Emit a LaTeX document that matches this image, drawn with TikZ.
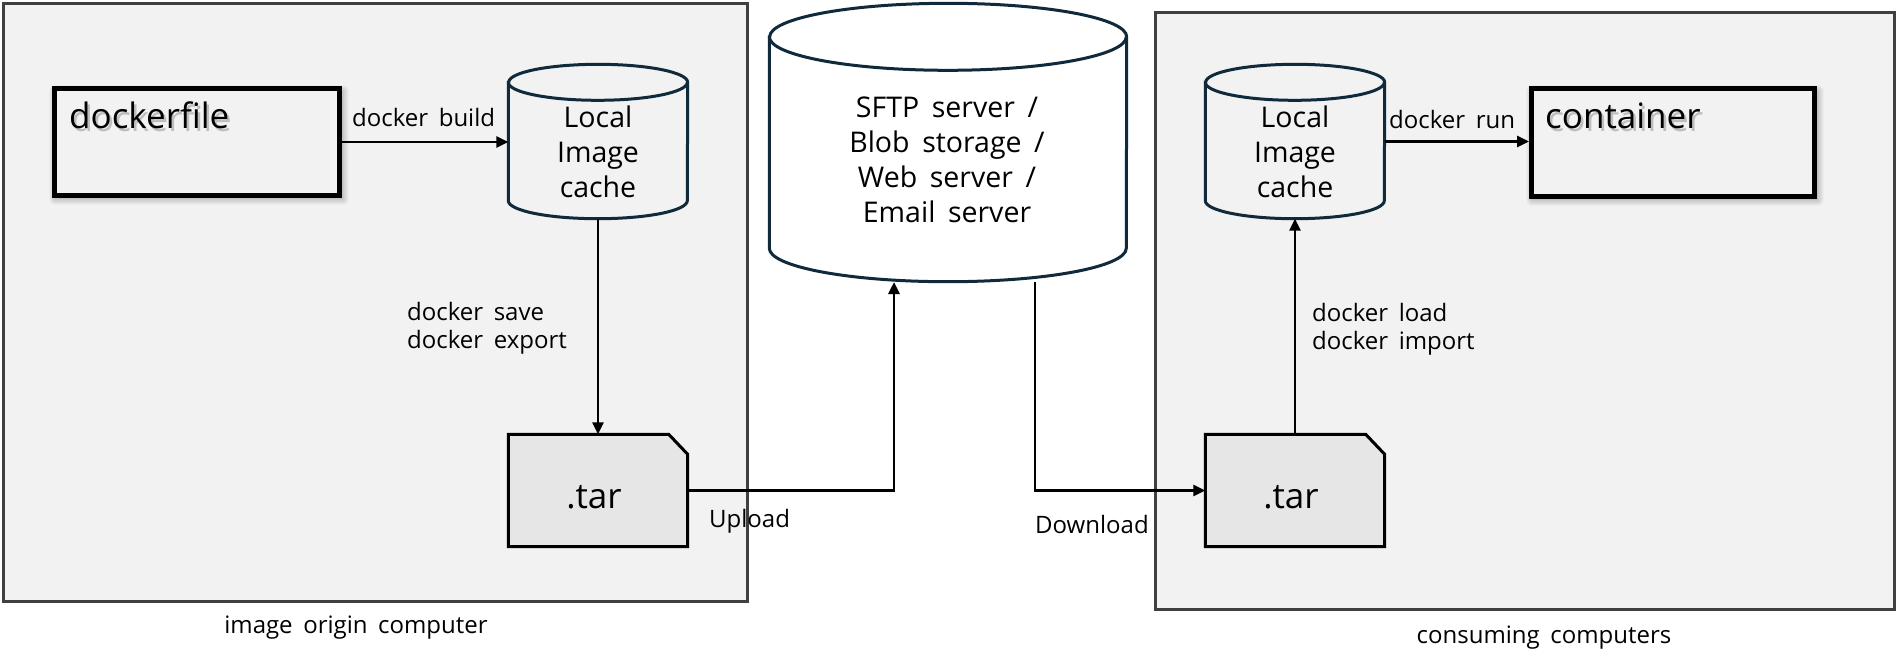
\documentclass[tikz,border=0pt]{standalone}
\usepackage{fontspec}
\setmainfont{Open Sans}[WordSpace=1.7]
\usetikzlibrary{arrows.meta,calc}
\definecolor{boxbg}{HTML}{F2F2F2}
\definecolor{boxedge}{HTML}{404040}
\definecolor{cylnavy}{HTML}{102A3C}
\definecolor{tarfill}{HTML}{E6E6E6}
\newcommand{\cylshape}[4]{% node, x radius, y radius, fill
  \filldraw[cylline, fill=#4] ($(#1.north west)+(0,#3)$) -- ($(#1.south west)+(0,-#3)$)
    arc[start angle=180, end angle=0, x radius=#2, y radius=#3]
    -- ($(#1.north east)+(0,#3)$)
    arc[start angle=0, end angle=-180, x radius=#2, y radius=#3] -- cycle;
  \draw[cylline] ($(#1.north west)+(0,#3)$) arc[start angle=180, end angle=0, x radius=#2, y radius=#3];
}
\newcommand{\softshadow}[1]{%
  \foreach \g in {0,1.5,3,4.5,6}
    \fill[black, opacity=0.045, rounded corners=\g pt] ($(#1.south west)+(1-\g,3+\g)$) rectangle ($(#1.north east)+(3+\g,3-\g)$);
}
\begin{document}
\begin{tikzpicture}[x=1pt,y=-1pt,
  group/.style={draw=boxedge, fill=boxbg, line width=3pt, inner sep=0pt},
  frame/.style={draw=none, inner sep=0pt},
  cylline/.style={draw=cylnavy, line width=3pt},
  thickbox/.style={draw=black, fill=boxbg, line width=5pt, inner sep=0pt},
  tarline/.style={draw=black, fill=tarfill, line width=3pt},
  conn/.style={line width=2.8pt, -{Triangle[length=12pt,width=11pt]}},
  lbl/.style={font=\fontsize{24}{27.5}\selectfont, inner sep=0pt},
  cyltext/.style={font=\fontsize{28.5}{35}\selectfont, align=center, inner sep=0pt},
  bigtext/.style={font=\fontsize{35}{40}\selectfont, inner sep=0pt}
]
\useasboundingbox (0,0) rectangle (1896,665);
\fill[white] (0,0) rectangle (1896,665);

% computer groups
\node[group, anchor=north west, minimum width=744, minimum height=598.5] (origin) at (1.5,1.5) {};
\node[group, anchor=north west, minimum width=739, minimum height=597] (consumer) at (1153.5,10.5) {};
\node[lbl, anchor=base] (originlbl) at (356,633) {image origin computer};
\node[lbl, anchor=base] (consumerlbl) at (1544,643) {consuming computers};

% dockerfile box
\node[frame, minimum width=285, minimum height=107] (dfshape) at (197,142) {};
\softshadow{dfshape}
\node[thickbox, minimum width=285, minimum height=107] (df) at (197,142) {};
\node[bigtext, anchor=base west, text=black!45, opacity=0.5] (dfshadow) at (71.5,131) {dockerfile};
\node[bigtext, anchor=base west] (dftext) at (69,128) {dockerfile};

% container box
\node[frame, minimum width=283, minimum height=108] (ctshape) at (1673,142.5) {};
\softshadow{ctshape}
\node[thickbox, minimum width=283, minimum height=108] (ct) at (1673,142.5) {};
\node[bigtext, anchor=base west, text=black!45, opacity=0.5] (ctshadow) at (1547.5,131) {container};
\node[bigtext, anchor=base west] (cttext) at (1545,128) {container};

% local image caches
\node[frame, minimum width=179, minimum height=154] (c1) at (598,141.5) {};
\cylshape{c1}{89.5}{18}{boxbg}
\node[cyltext, anchor=base] (c1text) at (598,197) {Local\\Image\\cache};
\node[frame, minimum width=179, minimum height=154] (c2) at (1295,141.5) {};
\cylshape{c2}{89.5}{18}{boxbg}
\node[cyltext, anchor=base] (c2text) at (1295,197) {Local\\Image\\cache};

% server
\node[frame, minimum width=357, minimum height=278] (srv) at (948,142.5) {};
\cylshape{srv}{178.5}{33.5}{white}
\node[cyltext, anchor=base] (srvtext) at (947,222) {SFTP server /\\Blob storage /\\Web server /\\Email server};

% tar files
\node[frame, minimum width=179, minimum height=112] (tar1) at (598,490.5) {};
\filldraw[tarline] (tar1.south west) -- (tar1.north west) -- ($(tar1.north east)+(-19,0)$) -- ($(tar1.north east)+(0,20)$) -- (tar1.south east) -- cycle;
\node[bigtext, anchor=base] (tar1text) at (594,508) {.tar};
\node[frame, minimum width=179, minimum height=112] (tar2) at (1295,490.5) {};
\filldraw[tarline] (tar2.south west) -- (tar2.north west) -- ($(tar2.north east)+(-19,0)$) -- ($(tar2.north east)+(0,20)$) -- (tar2.south east) -- cycle;
\node[bigtext, anchor=base] (tar2text) at (1291,508) {.tar};

% connectors
\draw[conn] (df.east) -- (df.east -| c1.west);
\node[lbl, anchor=base west] (buildlbl) at (352,126) {docker build};

\draw[conn] (c1.south) -- (tar1.north);
\node[lbl, anchor=base west, align=left] (savelbl) at (407,348) {docker save\\docker export};

\coordinate (upin) at (894,282);
\draw[conn] (tar1.east) -| (upin);
\node[lbl, anchor=base west] (uplbl) at (709,527) {Upload};

\coordinate (downout) at (1035,282);
\draw[conn] (downout) |- (tar2.west);
\node[lbl, anchor=base west] (downlbl) at (1035,533) {Download};

\draw[conn] (tar2.north) -- (c2.south);
\node[lbl, anchor=base west, align=left] (loadlbl) at (1312,349) {docker load\\docker import};

\draw[conn] (c2.east) -- (c2.east -| ct.west);
\node[lbl, anchor=base west] (runlbl) at (1389,128) {docker run};
\end{tikzpicture}
\end{document}
